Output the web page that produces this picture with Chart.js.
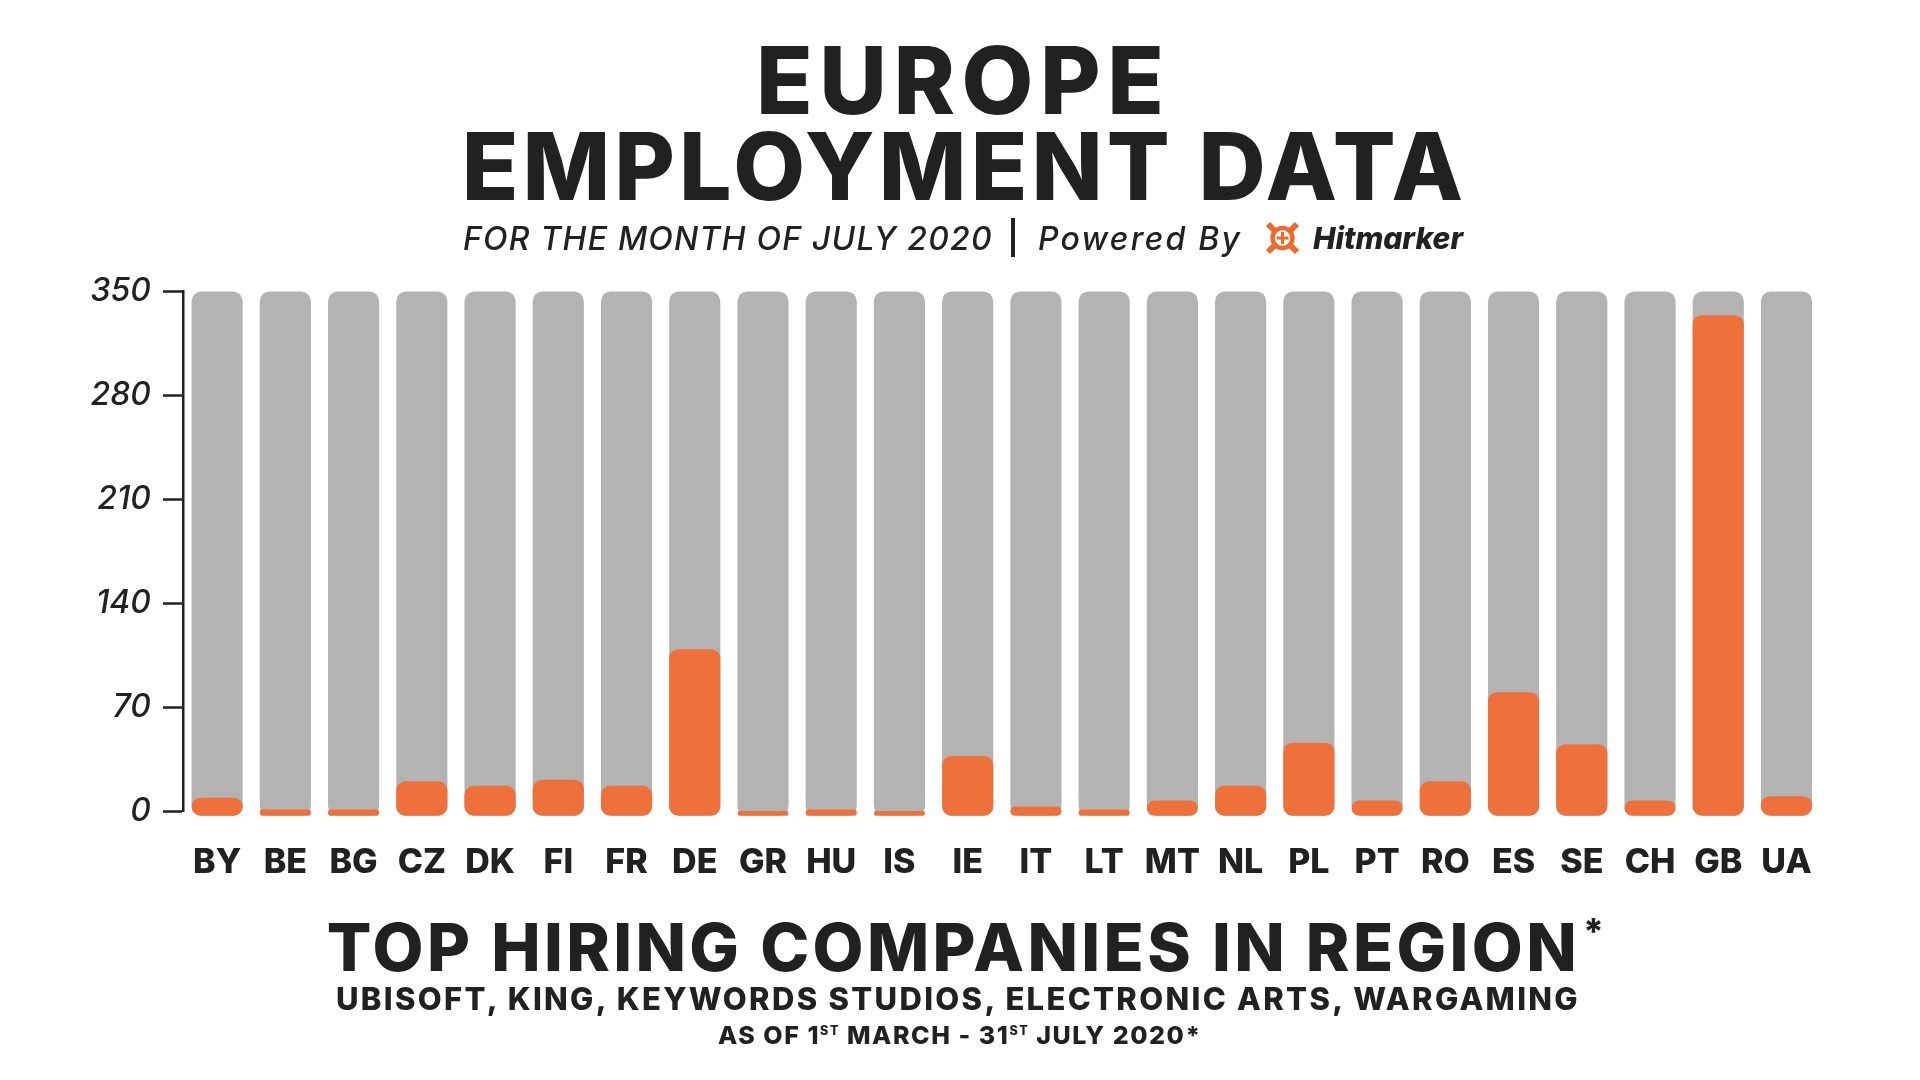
<!DOCTYPE html>
<html>
<head>
<meta charset="utf-8">
<script src="https://cdn.jsdelivr.net/npm/chart.js@4.4.1/dist/chart.umd.min.js"></script>
<style>
html, body { margin: 0; padding: 0; background: #fff; }
#pagina { position: relative; width: 1920px; height: 1080px; overflow: hidden; color: #212121; }
#caixaGrafico { position: absolute; left: 0; top: 0; width: 1920px; height: 1080px; }
.txt { position: absolute; left: 0; top: 0; white-space: nowrap; line-height: 1; font-family: Inter, Roboto, sans-serif; font-weight: 800; }
.ital { font-style: italic; font-weight: 500; }
.bl { display: inline-block; width: 0; height: 0; vertical-align: baseline; }
sup { font-size: 0.5em; line-height: 0; vertical-align: 9px; }
</style>
</head>
<body>
<div id="pagina">
  <div id="caixaGrafico"><canvas id="graficoEuropa"></canvas></div>

  <div class="txt" id="titulo1" style="font-size:93px">EUROPE</div>
  <div class="txt" id="titulo2" style="font-size:93px">EMPLOYMENT DATA</div>

  <div class="txt ital" id="sub1" style="font-size:32px">FOR THE MONTH OF JULY 2020</div>
  <div style="position:absolute;left:1011px;top:218px;width:4px;height:39px;background:#212121"></div>
  <div class="txt ital" id="sub2" style="font-size:32px">Powered By</div>
  <svg width="35" height="34" viewBox="0 0 35 34" style="position:absolute;left:1265px;top:221px">
    <g stroke="#EE6A2C" fill="none">
      <circle cx="17.5" cy="17" r="10" stroke-width="4.5"/>
      <path d="M3 3 L10 10 M32 3 L25 10 M3 31 L10 24 M32 31 L25 24" stroke-width="6"/>
    </g>
    <path d="M16 11 h3 v4.5 h4.5 v3 h-4.5 v4.5 h-3 v-4.5 h-4.5 v-3 h4.5z" fill="#EE6A2C"/>
  </svg>
  <div class="txt" id="sub3" style="font-size:30px;font-style:italic">Hitmarker</div>

  <div class="txt" id="rodape1" style="font-size:66px">TOP HIRING COMPANIES IN REGION</div>
  <div class="txt" id="asterisco" style="font-size:36px">*</div>
  <div class="txt" id="rodape2" style="font-size:31px">UBISOFT, KING, KEYWORDS STUDIOS, ELECTRONIC ARTS, WARGAMING</div>
  <div class="txt" id="rodape3" style="font-size:25px">AS OF 1<sup>ST</sup> MARCH - 31<sup>ST</sup> JULY 2020*</div>
</div>

<script>
const paises = ['BY', 'BE', 'BG', 'CZ', 'DK', 'FI', 'FR', 'DE', 'GR', 'HU', 'IS', 'IE',
                'IT', 'LT', 'MT', 'NL', 'PL', 'PT', 'RO', 'ES', 'SE', 'CH', 'GB', 'UA'];
const vagas = [9, 1, 1, 20, 17, 21, 17, 109, 0, 1, 0, 37,
               3, 1, 7, 17, 46, 7, 20, 80, 45, 7, 334, 10];
const fundo = [350, 350, 350, 350, 350, 350, 350, 350, 350, 350, 350, 350,
               350, 350, 350, 350, 350, 350, 350, 350, 350, 350, 350, 350];
const marcasY = [0, 70, 140, 210, 280, 350];

// posiciona o texto pela linha de base e ajusta o espaçamento para a largura alvo
function encaixar(id, esquerda, direita, base) {
    const el = document.getElementById(id);
    el.style.left = esquerda + 'px';
    el.style.letterSpacing = '0px';
    let marca = el.querySelector('.bl');
    if (!marca) {
        marca = document.createElement('span');
        marca.className = 'bl';
        el.appendChild(marca);
    }
    if (direita !== null) {
        const n = el.textContent.length;
        const w = el.getBoundingClientRect().width;
        el.style.letterSpacing = ((direita - esquerda - w) / (n - 1)) + 'px';
    }
    const b = marca.getBoundingClientRect().top - el.getBoundingClientRect().top;
    el.style.top = (base - b) + 'px';
}

function montarTextos() {
    encaixar('titulo1', 756, 1164, 114.3);
    encaixar('titulo2', 461.7, 1463, 200);
    encaixar('sub1', 463, 991.7, 250);
    encaixar('sub2', 1038, 1240, 250);
    encaixar('sub3', 1313, 1463, 249);
    encaixar('rodape1', 326.7, 1576.7, 970.7);
    encaixar('asterisco', 1583, null, 944);
    encaixar('rodape2', 336, 1577.7, 1010);
    encaixar('rodape3', 718, 1200, 1044);
}

function inicializarGrafico() {
    const ctx = document.getElementById('graficoEuropa').getContext('2d');
    Chart.defaults.color = '#212121';

    new Chart(ctx, {
        type: 'bar',
        data: {
            labels: paises,
            datasets: [{
                data: vagas,
                backgroundColor: '#EE713C',
                borderRadius: 9,
                borderSkipped: false,
                base: -3.2,
                clip: false,
                order: 0
            }, {
                data: fundo,
                backgroundColor: '#B3B3B3',
                borderRadius: 10,
                borderSkipped: false,
                base: -3.2,
                clip: false,
                order: 1
            }]
        },
        options: {
            responsive: true,
            maintainAspectRatio: false,
            animation: false,
            layout: { padding: { left: 0, right: 99.4, top: 291.4, bottom: 200 } },
            datasets: { bar: { grouped: false, barPercentage: 0.75, categoryPercentage: 1 } },
            plugins: { legend: { display: false }, tooltip: { enabled: false } },
            scales: {
                x: {
                    grid: { display: false },
                    border: { display: false },
                    afterFit: (s) => { s.height = 69; },
                    ticks: {
                        padding: 23,
                        autoSkip: false,
                        maxRotation: 0,
                        color: '#212121',
                        font: { family: 'Inter', size: 34, weight: 800 }
                    }
                },
                y: {
                    min: 0,
                    max: 350,
                    afterBuildTicks: (s) => { s.ticks = marcasY.map(v => ({ value: v })); },
                    afterFit: (s) => { s.width = 183; },
                    grid: { drawOnChartArea: false, drawTicks: true, tickLength: 20, tickColor: '#212121', tickWidth: 2.5 },
                    border: { display: true, color: '#212121', width: 2.5 },
                    ticks: {
                        padding: 12,
                        color: '#212121',
                        font: { family: 'Inter', size: 32, style: 'italic', weight: 500 }
                    }
                }
            }
        }
    });
}

montarTextos();
inicializarGrafico();
if (document.fonts) document.fonts.ready.then(montarTextos);
</script>
</body>
</html>
